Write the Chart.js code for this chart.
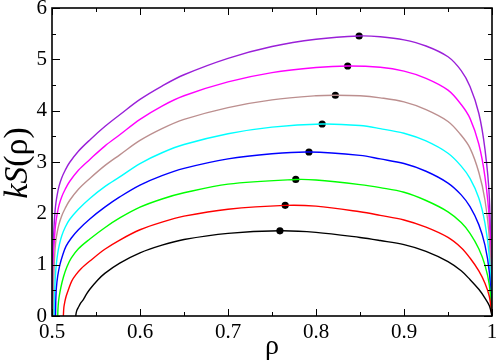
<!DOCTYPE html>
<html>
<head>
<meta charset="utf-8">
<script src="https://cdn.jsdelivr.net/npm/chart.js@4/dist/chart.umd.min.js"></script>
<style>
  html, body { margin: 0; padding: 0; background: #fff; }
  #graficoS { display: block; }
</style>
</head>
<body>
<canvas id="graficoS" width="498" height="364"></canvas>
<script>
// curve values, one x list and one y list per curve
var nero_x = [0.527, 0.5275, 0.5285, 0.53, 0.5325, 0.5356, 0.539, 0.543, 0.552, 0.56, 0.577, 0.6, 0.625, 0.65, 0.7, 0.759, 0.8, 0.85, 0.873, 0.9, 0.925, 0.95, 0.965, 0.975, 0.985, 0.992, 0.997, 1.0];
var nero_y = [0, 0.06, 0.12, 0.17, 0.25, 0.32, 0.42, 0.52, 0.7, 0.83, 1.03, 1.23, 1.38, 1.49, 1.61, 1.66, 1.63, 1.53, 1.47, 1.39, 1.26, 1.06, 0.88, 0.71, 0.52, 0.35, 0.2, 0];

var rosso_x = [0.5129, 0.5135, 0.5145, 0.516, 0.5186, 0.5224, 0.527, 0.533, 0.543, 0.56, 0.577, 0.6, 0.625, 0.65, 0.7, 0.765, 0.8, 0.85, 0.873, 0.9, 0.925, 0.95, 0.965, 0.975, 0.985, 0.992, 0.997, 1.0];
var rosso_y = [0, 0.17, 0.27, 0.38, 0.51, 0.68, 0.8, 0.92, 1.07, 1.3, 1.48, 1.68, 1.83, 1.945, 2.08, 2.156, 2.14, 2.03, 1.96, 1.87, 1.73, 1.53, 1.33, 1.13, 0.88, 0.64, 0.38, 0];

var verde_x = [0.5065, 0.507, 0.508, 0.51, 0.513, 0.517, 0.522, 0.53, 0.543, 0.56, 0.577, 0.6, 0.625, 0.65, 0.7, 0.777, 0.8, 0.85, 0.873, 0.9, 0.925, 0.95, 0.965, 0.975, 0.985, 0.992, 0.997, 1.0];
var verde_y = [0, 0.2, 0.36, 0.55, 0.76, 0.96, 1.13, 1.31, 1.5, 1.72, 1.91, 2.12, 2.28, 2.4, 2.57, 2.66, 2.65, 2.56, 2.5, 2.41, 2.25, 2.03, 1.82, 1.61, 1.31, 0.99, 0.6, 0];

var blu_x = [0.504, 0.5043, 0.505, 0.5065, 0.509, 0.512, 0.516, 0.522, 0.53, 0.543, 0.56, 0.577, 0.6, 0.625, 0.65, 0.7, 0.75, 0.792, 0.85, 0.873, 0.9, 0.925, 0.95, 0.965, 0.975, 0.985, 0.992, 0.997, 1.0];
var blu_y = [0, 0.3, 0.55, 0.78, 1.0, 1.18, 1.36, 1.52, 1.68, 1.89, 2.12, 2.32, 2.55, 2.735, 2.875, 3.06, 3.16, 3.195, 3.13, 3.06, 2.97, 2.82, 2.59, 2.36, 2.13, 1.78, 1.38, 0.85, 0];

var ciano_x = [0.5026, 0.5028, 0.5032, 0.504, 0.505, 0.5065, 0.5085, 0.511, 0.515, 0.52, 0.53, 0.543, 0.56, 0.577, 0.6, 0.625, 0.65, 0.7, 0.75, 0.807, 0.85, 0.873, 0.9, 0.925, 0.95, 0.965, 0.975, 0.985, 0.992, 0.997, 1.0];
var ciano_y = [0, 0.3, 0.55, 0.82, 1.02, 1.22, 1.4, 1.56, 1.73, 1.88, 2.08, 2.29, 2.52, 2.71, 2.97, 3.18, 3.34, 3.55, 3.68, 3.74, 3.71, 3.65, 3.56, 3.41, 3.17, 2.92, 2.68, 2.3, 1.81, 1.15, 0];

var marrone_x = [0.5015, 0.5017, 0.502, 0.5025, 0.5035, 0.5045, 0.506, 0.508, 0.511, 0.515, 0.52, 0.53, 0.543, 0.56, 0.577, 0.6, 0.625, 0.65, 0.7, 0.75, 0.8, 0.822, 0.85, 0.873, 0.9, 0.925, 0.95, 0.965, 0.975, 0.985, 0.992, 0.997, 1.0];
var marrone_y = [0, 0.45, 0.7, 1.0, 1.3, 1.48, 1.64, 1.79, 1.95, 2.1, 2.25, 2.47, 2.68, 2.93, 3.14, 3.42, 3.65, 3.83, 4.06, 4.21, 4.29, 4.3, 4.29, 4.25, 4.17, 4.02, 3.79, 3.52, 3.27, 2.8, 2.26, 1.5, 0];

var magenta_x = [0.5008, 0.501, 0.5013, 0.5018, 0.5025, 0.5035, 0.5045, 0.506, 0.508, 0.511, 0.515, 0.52, 0.53, 0.543, 0.56, 0.577, 0.6, 0.625, 0.65, 0.7, 0.75, 0.8, 0.836, 0.873, 0.9, 0.925, 0.95, 0.965, 0.975, 0.985, 0.992, 0.997, 1.0];
var magenta_y = [0, 0.55, 0.85, 1.15, 1.42, 1.68, 1.84, 2.0, 2.16, 2.32, 2.47, 2.62, 2.84, 3.05, 3.31, 3.53, 3.83, 4.09, 4.29, 4.56, 4.74, 4.84, 4.87, 4.845, 4.77, 4.63, 4.4, 4.12, 3.85, 3.35, 2.71, 1.85, 0];

var viola_x = [0.5, 0.5006, 0.5012, 0.5018, 0.5025, 0.5035, 0.5045, 0.506, 0.508, 0.511, 0.515, 0.52, 0.53, 0.543, 0.56, 0.577, 0.6, 0.625, 0.65, 0.7, 0.75, 0.8, 0.849, 0.873, 0.9, 0.925, 0.95, 0.965, 0.975, 0.985, 0.992, 0.997, 1.0];
var viola_y = [0.3, 0.95, 1.28, 1.55, 1.8, 2.05, 2.21, 2.37, 2.53, 2.69, 2.84, 2.99, 3.21, 3.43, 3.69, 3.92, 4.22, 4.48, 4.7, 5.02, 5.25, 5.39, 5.455, 5.44, 5.38, 5.26, 5.05, 4.78, 4.47, 3.95, 3.25, 2.3, 0];

// maxima (black dots)
var piccoX = [0.759, 0.765, 0.777, 0.792, 0.807, 0.822, 0.836, 0.849];
var piccoY = [1.66, 2.156, 2.66, 3.195, 3.74, 4.30, 4.87, 5.455];

// axis ticks
var ticksX = [0.5, 0.6, 0.7, 0.8, 0.9, 1];
var ticksY = [0, 1, 2, 3, 4, 5, 6];

var curveX = [nero_x, rosso_x, verde_x, blu_x, ciano_x, marrone_x, magenta_x, viola_x];
var curveY = [nero_y, rosso_y, verde_y, blu_y, ciano_y, marrone_y, magenta_y, viola_y];
var colori = ['#000000', '#ff0000', '#00ff00', '#0000ff', '#00ffff', '#bc8f8f', '#ff00ff', '#9a1fd8'];

function punti(xs, ys) {
    var out = [];
    for (var i = 0; i < xs.length; i++) {
        out.push({x: xs[i], y: ys[i]});
    }
    return out;
}

// first family in the list that is really installed (serif preferred, else a narrow sans)
function trovaFont(lista) {
    var c = document.createElement('canvas').getContext('2d');
    var prova = 'abcdefghijkmwWQ0123456789';
    for (var i = 0; i < lista.length; i++) {
        var diverso = false;
        ['monospace', 'sans-serif'].forEach(function (base) {
            c.font = '40px ' + base;
            var w0 = c.measureText(prova).width;
            c.font = '40px "' + lista[i] + '", ' + base;
            if (Math.abs(c.measureText(prova).width - w0) > 0.5) diverso = true;
        });
        if (diverso) return { nome: '"' + lista[i] + '"', serif: i < 5 };
    }
    return { nome: 'sans-serif', serif: false };
}
var scelta = trovaFont(['Liberation Serif', 'Times New Roman', 'DejaVu Serif', 'Tinos', 'Noto Serif', 'Liberation Sans', 'Arimo', 'Arial', 'Roboto']);
var serif = scelta.nome;
var kTick = scelta.serif ? 21 : 19;
var kTitolo = scelta.serif ? 34 : 31;

var datasets = [];
for (var c = 0; c < curveX.length; c++) {
    datasets.push({
        data: punti(curveX[c], curveY[c]),
        borderColor: colori[c],
        borderWidth: 1.4,
        pointRadius: 0,
        showLine: true,
        fill: false,
        tension: 0.35
    });
}
datasets.push({
    data: punti(piccoX, piccoY),
    showLine: false,
    pointRadius: 3.6,
    pointBackgroundColor: '#000',
    pointBorderWidth: 0
});

// frame, inward ticks and axis titles
var cornice = {
    id: 'cornice',
    afterDraw: function (chart) {
        var ctx = chart.ctx;
        var a = chart.chartArea;
        var sx = chart.scales.x, sy = chart.scales.y;
        ctx.save();
        ctx.strokeStyle = '#000';
        ctx.lineWidth = 1;
        ctx.beginPath();
        var v, p, len;
        for (v = 0.5; v <= 1.0001; v += 0.05) {
            p = Math.round(sx.getPixelForValue(v)) + 0.5;
            len = (Math.round(v * 100) % 10 === 0) ? 7 : 4;
            ctx.moveTo(p, a.bottom); ctx.lineTo(p, a.bottom - len);
            ctx.moveTo(p, a.top); ctx.lineTo(p, a.top + len);
        }
        for (v = 0; v <= 6.0001; v += 0.5) {
            p = Math.round(sy.getPixelForValue(v)) + 0.5;
            len = (Math.round(v * 10) % 10 === 0) ? 8 : 4;
            ctx.moveTo(a.left, p); ctx.lineTo(a.left + len, p);
            ctx.moveTo(a.right, p); ctx.lineTo(a.right - len, p);
        }
        ctx.stroke();
        ctx.lineWidth = 1.6;
        ctx.strokeRect(a.left, a.top, a.right - a.left, a.bottom - a.top);

        ctx.fillStyle = '#000';
        ctx.font = '28px ' + serif;
        ctx.textAlign = 'center';
        ctx.textBaseline = 'alphabetic';
        ctx.fillText('ρ', (a.left + a.right) / 2, 354);

        ctx.translate(27, (a.top + a.bottom) / 2 + 1);
        ctx.rotate(-Math.PI / 2);
        ctx.font = 'italic ' + kTitolo + 'px ' + serif;
        var w1 = ctx.measureText('kS').width;
        ctx.font = kTitolo + 'px ' + serif;
        var w2 = ctx.measureText('(ρ)').width;
        var x0 = -(w1 + w2) / 2;
        ctx.textAlign = 'left';
        ctx.font = 'italic ' + kTitolo + 'px ' + serif;
        ctx.fillText('kS', x0, 0);
        ctx.font = kTitolo + 'px ' + serif;
        ctx.fillText('(ρ)', x0 + w1, 0);
        ctx.restore();
    }
};

var ctx = document.getElementById('graficoS');
var chart = new Chart(ctx, {
    type: 'scatter',
    data: { datasets: datasets },
    options: {
        responsive: false,
        animation: false,
        layout: { padding: { top: 8, right: 6, left: 0, bottom: 0 } },
        plugins: { legend: { display: false }, tooltip: { enabled: false } },
        scales: {
            x: {
                type: 'linear', min: 0.5, max: 1,
                grid: { display: false, drawTicks: false },
                border: { display: false },
                afterBuildTicks: function (s) { s.ticks = ticksX.map(function (t) { return {value: t}; }); },
                ticks: {
                    color: '#000', font: { family: serif, size: kTick }, padding: 4, maxRotation: 0,
                    callback: function (v) { return String(v); }
                },
                afterFit: function (s) { s.height = 48; s.paddingLeft = 0; s.paddingRight = 0; }
            },
            y: {
                type: 'linear', min: 0, max: 6,
                grid: { display: false, drawTicks: false },
                border: { display: false },
                afterBuildTicks: function (s) { s.ticks = ticksY.map(function (t) { return {value: t}; }); },
                ticks: {
                    color: '#000', font: { family: serif, size: kTick }, padding: 5,
                    callback: function (v) { return String(v); }
                },
                afterFit: function (s) { s.width = 52; s.paddingTop = 0; s.paddingBottom = 0; }
            }
        }
    },
    plugins: [cornice]
});
</script>
</body>
</html>
